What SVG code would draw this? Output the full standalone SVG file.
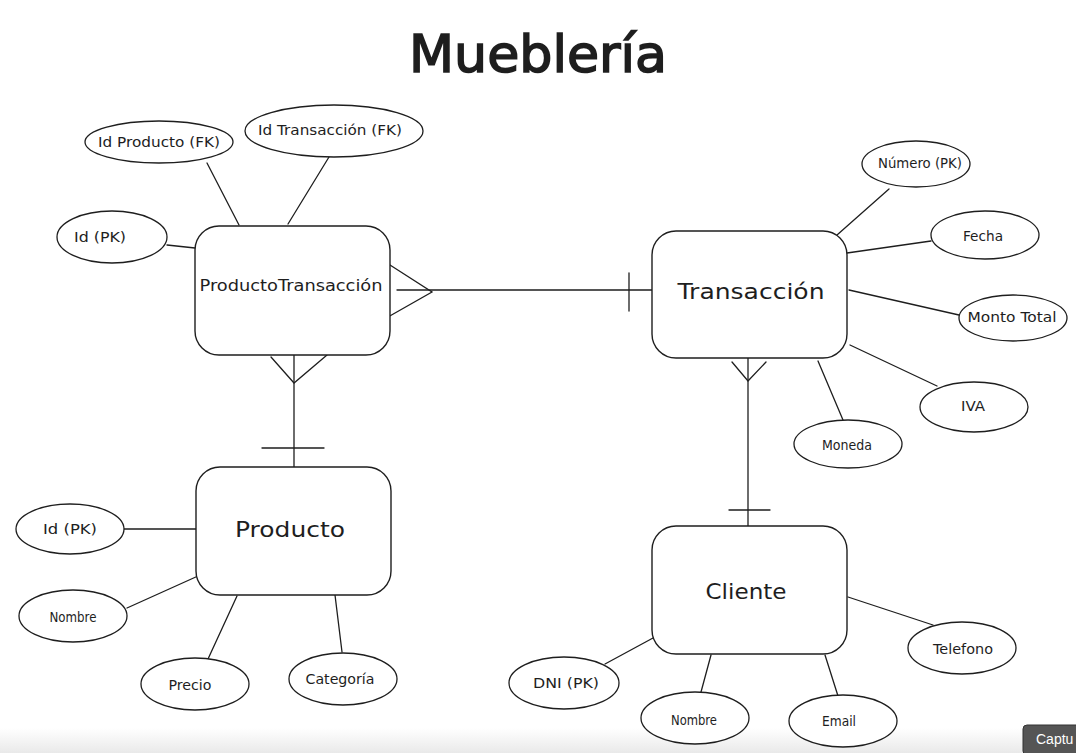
<svg xmlns="http://www.w3.org/2000/svg" width="1076" height="753" viewBox="0 0 1076 753">
<defs>
<linearGradient id="fade" x1="0" y1="0" x2="0" y2="1">
<stop offset="0" stop-color="#ffffff"/>
<stop offset="1" stop-color="#e9e9e9"/>
</linearGradient>
</defs>
<style>
.ent{fill:#ffffff;stroke:#1e1e1e;stroke-width:1.4}
.attr{fill:#ffffff;stroke:#1e1e1e;stroke-width:1.3}
.ln{stroke:#1e1e1e;stroke-width:1.3;fill:none;stroke-linecap:round}
.t{font-family:"DejaVu Sans",sans-serif;fill:#1e1e1e;text-anchor:middle}
.at{font-size:13.5px}
.en{font-size:22px}
</style>
<rect x="0" y="0" width="1076" height="753" fill="#ffffff"/>
<rect x="0" y="728" width="1076" height="25" fill="url(#fade)"/>

<text class="t" x="538" y="72" font-size="52" stroke="#1e1e1e" stroke-width="1.6" textLength="258" lengthAdjust="spacingAndGlyphs">Mueblería</text>

<g id="connectors">
<line class="ln" x1="207" y1="163" x2="239" y2="225"/>
<line class="ln" x1="329" y1="157" x2="288" y2="224"/>
<line class="ln" x1="167" y1="245" x2="195" y2="248"/>
<line class="ln" x1="397" y1="290" x2="652" y2="290"/>
<polyline class="ln" points="390,265 432,292 388,317"/>
<line class="ln" x1="629" y1="273" x2="629" y2="311"/>
<line class="ln" x1="294" y1="355" x2="294" y2="467"/>
<polyline class="ln" points="271,357 294,383 327,355"/>
<line class="ln" x1="262" y1="448" x2="324" y2="448"/>
<line class="ln" x1="748" y1="358" x2="748" y2="526"/>
<polyline class="ln" points="732,362 748,381 766,362"/>
<line class="ln" x1="729" y1="510" x2="770" y2="510"/>
<line class="ln" x1="889" y1="189" x2="837" y2="235"/>
<line class="ln" x1="931" y1="241" x2="847" y2="253"/>
<line class="ln" x1="849" y1="290" x2="959" y2="315"/>
<line class="ln" x1="850" y1="345" x2="937" y2="386"/>
<line class="ln" x1="818" y1="361" x2="843" y2="420"/>
<line class="ln" x1="124" y1="529" x2="197" y2="529"/>
<line class="ln" x1="127" y1="608" x2="198" y2="576"/>
<line class="ln" x1="208" y1="659" x2="237" y2="596"/>
<line class="ln" x1="342" y1="652" x2="335" y2="595"/>
<line class="ln" x1="605" y1="664" x2="653" y2="638"/>
<line class="ln" x1="711" y1="655" x2="701" y2="692"/>
<line class="ln" x1="825" y1="655" x2="838" y2="696"/>
<line class="ln" x1="848" y1="597" x2="933" y2="625"/>
</g>

<g id="productotransaccion">
<rect class="ent" x="195" y="226" width="195" height="129" rx="24"/>
<text class="t" x="291" y="291" font-size="16" textLength="183" lengthAdjust="spacingAndGlyphs">ProductoTransacción</text>
</g>
<g id="transaccion">
<rect class="ent" x="652" y="231" width="195" height="127" rx="24"/>
<text class="t en" x="751" y="299" textLength="147" lengthAdjust="spacingAndGlyphs">Transacción</text>
</g>
<g id="producto">
<rect class="ent" x="196" y="467" width="195" height="128" rx="24"/>
<text class="t en" x="290" y="537" textLength="110" lengthAdjust="spacingAndGlyphs">Producto</text>
</g>
<g id="cliente">
<rect class="ent" x="652" y="526" width="195" height="128" rx="24"/>
<text class="t en" x="746" y="599" textLength="81" lengthAdjust="spacingAndGlyphs">Cliente</text>
</g>

<g id="pt-idproducto">
<ellipse class="attr" cx="159" cy="142" rx="74" ry="21"/>
<text class="t at" x="159" y="147" textLength="122" lengthAdjust="spacingAndGlyphs">Id Producto (FK)</text>
</g>
<g id="pt-idtransaccion">
<ellipse class="attr" cx="334" cy="131" rx="89" ry="26"/>
<text class="t at" x="330" y="135" textLength="144" lengthAdjust="spacingAndGlyphs">Id Transacción (FK)</text>
</g>
<g id="pt-id">
<ellipse class="attr" cx="112" cy="237" rx="55" ry="26"/>
<text class="t at" x="100" y="242" textLength="52" lengthAdjust="spacingAndGlyphs">Id (PK)</text>
</g>

<g id="tr-numero">
<ellipse class="attr" cx="916" cy="164" rx="54" ry="23"/>
<text class="t at" x="920" y="168" textLength="84" lengthAdjust="spacingAndGlyphs">Número (PK)</text>
</g>
<g id="tr-fecha">
<ellipse class="attr" cx="985" cy="235" rx="54" ry="24"/>
<text class="t at" x="983" y="241" textLength="40" lengthAdjust="spacingAndGlyphs">Fecha</text>
</g>
<g id="tr-monto">
<ellipse class="attr" cx="1013" cy="318" rx="54" ry="23"/>
<text class="t at" x="1012" y="322" textLength="89" lengthAdjust="spacingAndGlyphs">Monto Total</text>
</g>
<g id="tr-iva">
<ellipse class="attr" cx="974" cy="407" rx="54" ry="25"/>
<text class="t at" x="973" y="411" textLength="24" lengthAdjust="spacingAndGlyphs">IVA</text>
</g>
<g id="tr-moneda">
<ellipse class="attr" cx="848" cy="444" rx="54" ry="24"/>
<text class="t at" x="847" y="450" textLength="50" lengthAdjust="spacingAndGlyphs">Moneda</text>
</g>

<g id="pr-id">
<ellipse class="attr" cx="70" cy="529" rx="54" ry="25"/>
<text class="t at" x="70" y="534" textLength="54" lengthAdjust="spacingAndGlyphs">Id (PK)</text>
</g>
<g id="pr-nombre">
<ellipse class="attr" cx="73" cy="616" rx="54" ry="26"/>
<text class="t at" x="73" y="622" textLength="47" lengthAdjust="spacingAndGlyphs">Nombre</text>
</g>
<g id="pr-precio">
<ellipse class="attr" cx="195" cy="684" rx="54" ry="26"/>
<text class="t at" x="190" y="690" textLength="43" lengthAdjust="spacingAndGlyphs">Precio</text>
</g>
<g id="pr-categoria">
<ellipse class="attr" cx="343" cy="679" rx="54" ry="26"/>
<text class="t at" x="340" y="684" textLength="69" lengthAdjust="spacingAndGlyphs">Categoría</text>
</g>

<g id="cl-dni">
<ellipse class="attr" cx="564" cy="683" rx="55" ry="26"/>
<text class="t at" x="566" y="688" textLength="66" lengthAdjust="spacingAndGlyphs">DNI (PK)</text>
</g>
<g id="cl-nombre">
<ellipse class="attr" cx="695" cy="718" rx="54" ry="26"/>
<text class="t at" x="694" y="725" textLength="46" lengthAdjust="spacingAndGlyphs">Nombre</text>
</g>
<g id="cl-email">
<ellipse class="attr" cx="843" cy="721" rx="54" ry="26"/>
<text class="t at" x="839" y="726" textLength="34" lengthAdjust="spacingAndGlyphs">Email</text>
</g>
<g id="cl-telefono">
<ellipse class="attr" cx="962" cy="648" rx="54" ry="26"/>
<text class="t at" x="963" y="654" textLength="60" lengthAdjust="spacingAndGlyphs">Telefono</text>
</g>

<g id="capture-button">
<rect x="1023" y="725" width="60" height="30" rx="4" fill="#555555" stroke="#333333" stroke-width="1"/>
<text x="1036" y="744" font-family="Liberation Sans, sans-serif" font-size="14" fill="#ffffff">Captu</text>
</g>
</svg>
